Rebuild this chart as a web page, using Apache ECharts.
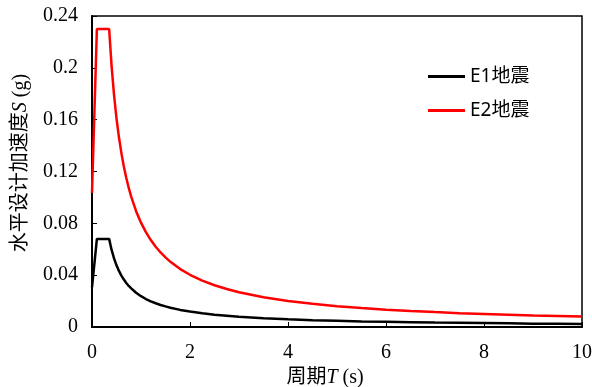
<!DOCTYPE html>
<html><head><meta charset="utf-8">
<script src="https://cdn.jsdelivr.net/npm/echarts@6/dist/echarts.min.js"></script>
<style>html,body{margin:0;padding:0;background:#fff}#c{width:592px;height:387px}</style>
</head><body><div id="c"></div>
<script>
const periods = [0, 0.1, 0.35, 0.4, 0.45, 0.5, 0.55, 0.6, 0.65, 0.7, 0.75, 0.8, 0.9, 1.0, 1.1, 1.2, 1.3, 1.4, 1.5, 1.6, 1.8, 2.0, 2.25, 2.5, 2.75, 3.0, 3.5, 4.0, 4.5, 5.0, 5.5, 6.0, 6.5, 7.0, 7.5, 8.0, 8.5, 9.0, 9.5, 10];
const e1 = [0.0306, 0.068, 0.068, 0.0595, 0.0529, 0.0476, 0.0433, 0.0397, 0.0366, 0.0340, 0.0317, 0.0298, 0.0264, 0.0238, 0.0216, 0.0198, 0.0183, 0.0170, 0.0159, 0.0149, 0.0132, 0.0119, 0.0106, 0.0095, 0.0087, 0.0079, 0.0068, 0.0060, 0.0053, 0.0048, 0.0043, 0.0040, 0.0037, 0.0034, 0.0032, 0.0030, 0.0028, 0.0026, 0.0025, 0.0024];
const e2 = [0.1035, 0.230, 0.230, 0.2013, 0.1789, 0.1610, 0.1464, 0.1342, 0.1238, 0.1150, 0.1073, 0.1006, 0.0894, 0.0805, 0.0732, 0.0671, 0.0619, 0.0575, 0.0537, 0.0503, 0.0447, 0.0403, 0.0358, 0.0322, 0.0293, 0.0268, 0.0230, 0.0201, 0.0179, 0.0161, 0.0146, 0.0134, 0.0124, 0.0115, 0.0107, 0.0101, 0.0095, 0.0089, 0.0085, 0.0081];
const seriesNames = ['E1地震', 'E2地震'];
const xTicks = [0, 2, 4, 6, 8, 10];
const yTicks = [0, 0.04, 0.08, 0.12, 0.16, 0.2, 0.24];

const serif = '"Liberation Serif", "Noto Sans CJK SC", serif';
const chart = echarts.init(document.getElementById('c'));
chart.setOption({
  animation: false,
  backgroundColor: '#fff',
  grid: { left: 92, right: 10, top: 16, bottom: 60, show: true, borderColor: '#000', borderWidth: 1.5, containLabel: false, outerBoundsMode: 'none' },
  legend: {
    orient: 'vertical', left: 428, top: 67, itemGap: 15, padding: 0,
    itemWidth: 37, itemHeight: 3, icon: 'rect',
    textStyle: { fontFamily: '"Noto Sans", "Noto Sans CJK SC", sans-serif', fontSize: 19, color: '#000' },
    data: seriesNames
  },
  xAxis: {
    type: 'value', min: xTicks[0], max: xTicks[xTicks.length-1], interval: 2,
    name: '{a|周期}{i|T}{a| (s)}', nameLocation: 'middle', nameGap: 40,
    nameTextStyle: { padding: [0, 24, 0, 0], rich: { a: { fontFamily: serif, fontSize: 20, color: '#000' }, i: { fontFamily: serif, fontSize: 20, fontStyle: 'italic', color: '#000' } } },
    axisLine: { lineStyle: { color: '#000', width: 2 } },
    axisTick: { inside: true, length: 5, lineStyle: { color: '#000', width: 1 } },
    axisLabel: { fontFamily: serif, fontSize: 20, color: '#000', margin: 16, formatter: v => String(v) },
    splitLine: { show: false }
  },
  yAxis: {
    type: 'value', min: yTicks[0], max: yTicks[yTicks.length-1], interval: 0.04,
    name: '{a|水平设计加速度}{i|S}{a| (g)}', nameLocation: 'middle', nameGap: 61,
    nameTextStyle: { padding: [0, 0, 0, 17], rich: { a: { fontFamily: serif, fontSize: 20, color: '#000' }, i: { fontFamily: serif, fontSize: 20, fontStyle: 'italic', color: '#000' } } },
    axisLine: { lineStyle: { color: '#000', width: 2 } },
    axisTick: { inside: true, length: 5, lineStyle: { color: '#000', width: 1 } },
    axisLabel: { fontFamily: serif, fontSize: 20, color: '#000', margin: 14, formatter: v => String(+v.toFixed(2)) },
    splitLine: { show: false }
  },
  series: [
    { name: seriesNames[0], type: 'line', showSymbol: false, data: periods.map((t,i)=>[t,e1[i]]), lineStyle: { color: '#000', width: 2.5 }, itemStyle: { color: '#000' } },
    { name: seriesNames[1], type: 'line', showSymbol: false, data: periods.map((t,i)=>[t,e2[i]]), lineStyle: { color: '#ff0000', width: 2.5 }, itemStyle: { color: '#ff0000' } }
  ]
});
</script></body></html>
